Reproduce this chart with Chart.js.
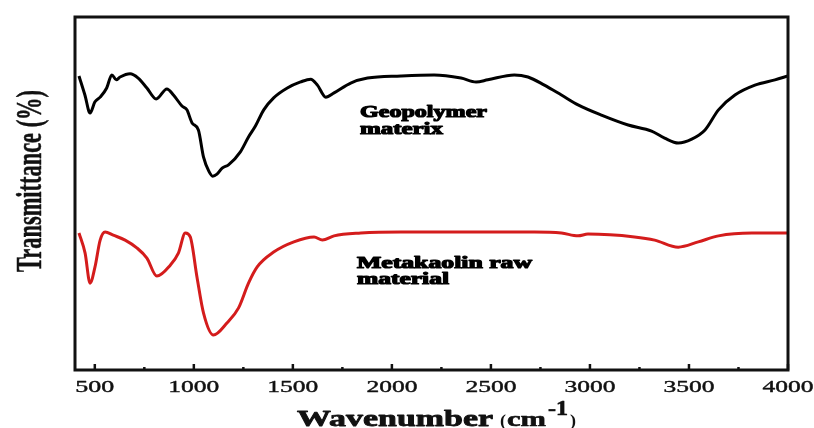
<!DOCTYPE html>
<html>
<head>
<meta charset="utf-8">
<script src="https://cdn.jsdelivr.net/npm/chart.js@4.4.1/dist/chart.umd.min.js"></script>
<style>
  html, body { margin: 0; padding: 0; background: #fff; }
  #wrap { width: 814px; height: 428px; }
</style>
</head>
<body>
<div id="wrap"><canvas id="myChart"></canvas></div>
<script>
// FTIR spectra, values (arbitrary transmittance units 0-100)
const geoWavenumber = [420, 450, 476, 500, 527, 560, 586, 608, 628, 678, 719, 763, 810, 864, 897, 940, 965, 991, 1023, 1049, 1075, 1095, 1117, 1143, 1175, 1235, 1276, 1311, 1353, 1403, 1472, 1539, 1590, 1624, 1666, 1708, 1792, 1877, 2046, 2213, 2349, 2425, 2484, 2618, 2687, 2770, 2856, 2940, 3058, 3193, 3311, 3377, 3446, 3514, 3581, 3649, 3732, 3833, 3934, 4000];
const geoTransmittance = [83.3, 77.9, 72.8, 75.9, 77.3, 79.9, 83.6, 82.2, 83.0, 83.9, 82.7, 79.9, 76.8, 79.6, 77.9, 74.8, 73.7, 70.0, 68.0, 60.3, 56.4, 54.9, 55.5, 57.2, 58.1, 61.8, 66.0, 69.1, 73.7, 77.1, 79.9, 81.6, 82.4, 80.7, 77.3, 78.5, 81.3, 82.7, 83.3, 83.6, 82.7, 81.6, 82.2, 83.6, 83.0, 80.7, 77.9, 75.1, 72.2, 69.4, 67.7, 65.7, 64.3, 65.4, 68.0, 73.7, 77.9, 80.7, 82.2, 83.3];

const mkWavenumber = [420, 451, 476, 501, 527, 552, 593, 653, 712, 763, 813, 881, 922, 957, 982, 1016, 1049, 1099, 1167, 1226, 1276, 1320, 1403, 1505, 1607, 1649, 1708, 1843, 2046, 2720, 2856, 2940, 2990, 3225, 3327, 3446, 3547, 3649, 3818, 4000];
const mkTransmittance = [38.8, 33.1, 24.6, 29.2, 36.8, 39.1, 38.2, 36.8, 34.6, 31.7, 26.6, 29.7, 33.1, 38.8, 37.7, 26.3, 16.1, 9.9, 13.3, 17.6, 24.6, 29.2, 33.4, 36.3, 37.7, 36.8, 38.0, 38.8, 39.1, 39.1, 38.8, 38.0, 38.5, 37.7, 36.8, 34.8, 36.3, 38.0, 38.8, 38.8];

const xMajorTicks = [500, 1000, 1500, 2000, 2500, 3000, 3500, 4000];
const xMinorTicks = [750, 1250, 1750, 2250, 2750, 3250, 3750];

const seriesLabels = [['Geopolymer', 'materix'], ['Metakaolin raw', 'material']];

function toPoints(xs, ys) {
    return xs.map((x, i) => ({ x: x, y: ys[i] }));
}

// draw text squeezed/stretched to a given width, optional outline to make it heavier
function drawFit(ctx, text, x, y, font, width, sy, align, heavy) {
    ctx.save();
    ctx.font = font;
    const w = ctx.measureText(text).width;
    const sx = width ? width / w : 1;
    ctx.translate(x, y);
    ctx.scale(sx, sy || 1);
    ctx.textAlign = align || 'left';
    ctx.textBaseline = 'alphabetic';
    ctx.fillText(text, 0, 0);
    if (heavy) {
        ctx.lineWidth = heavy;
        ctx.lineJoin = 'round';
        ctx.strokeStyle = ctx.fillStyle;
        ctx.strokeText(text, 0, 0);
    }
    ctx.restore();
}

const framePlugin = {
    id: 'frame',
    afterDraw(chart) {
        const ctx = chart.ctx;
        const a = chart.chartArea;
        const xs = chart.scales.x;
        ctx.save();
        ctx.strokeStyle = '#111';
        ctx.lineWidth = 3;
        ctx.strokeRect(a.left, a.top, a.right - a.left, a.bottom - a.top);

        // inward ticks on the bottom axis
        ctx.lineWidth = 2.5;
        xMajorTicks.forEach(v => {
            const px = xs.getPixelForValue(v);
            ctx.beginPath();
            ctx.moveTo(px, a.bottom);
            ctx.lineTo(px, a.bottom - 6);
            ctx.stroke();
        });
        xMinorTicks.forEach(v => {
            const px = xs.getPixelForValue(v);
            ctx.beginPath();
            ctx.moveTo(px, a.bottom);
            ctx.lineTo(px, a.bottom - 3);
            ctx.stroke();
        });

        // tick labels
        ctx.fillStyle = '#111';
        xMajorTicks.forEach(v => {
            const px = xs.getPixelForValue(v);
            drawFit(ctx, String(v), px, 392, '16px "Liberation Serif"', v >= 1000 ? 51 : 39, 1.02, 'center', 0.4);
        });

        // axis titles
        drawFit(ctx, 'Wavenumber', 297, 426, 'bold 23px "Liberation Serif"', 196, 1, 'left', 0.8);
        drawFit(ctx, '(', 500, 426, 'bold 16px "Liberation Serif"', 6, 1);
        drawFit(ctx, 'cm', 507, 426, 'bold 22px "Liberation Serif"', 39, 1, 'left', 0.6);
        drawFit(ctx, '-1', 548, 415, 'bold 20px "Liberation Serif"', 20, 1, 'left', 0.6);
        drawFit(ctx, ')', 570, 426, 'bold 16px "Liberation Serif"', 6, 1);

        ctx.save();
        ctx.translate(41, 272);
        ctx.rotate(-Math.PI / 2);
        drawFit(ctx, 'Transmittance (%)', 0, 0, 'bold 22px "Liberation Serif"', 182, 1.65, 'left', 0.3);
        ctx.restore();

        // curve labels
        ctx.fillStyle = '#000';
        drawFit(ctx, seriesLabels[0][0], 360, 117, 'bold 16px "Liberation Serif"', 127, 1.05, 'left', 1.1);
        drawFit(ctx, seriesLabels[0][1], 360, 134, 'bold 16px "Liberation Serif"', 83, 1.05, 'left', 1.1);
        drawFit(ctx, seriesLabels[1][0], 357, 268, 'bold 16px "Liberation Serif"', 175, 1.05, 'left', 1.1);
        drawFit(ctx, seriesLabels[1][1], 357, 284, 'bold 16px "Liberation Serif"', 92, 1.05, 'left', 1.1);
        ctx.restore();
    }
};

const ctx = document.getElementById('myChart');

new Chart(ctx, {
    type: 'line',
    data: {
        datasets: [
            {
                label: 'Geopolymer materix',
                data: toPoints(geoWavenumber, geoTransmittance),
                borderColor: '#000',
                borderWidth: 3,
                pointRadius: 0,
                cubicInterpolationMode: 'monotone'
            }, {
                label: 'Metakaolin raw material',
                data: toPoints(mkWavenumber, mkTransmittance),
                borderColor: '#d41c1c',
                borderWidth: 3,
                pointRadius: 0,
                cubicInterpolationMode: 'monotone'
            }
        ]
    },
    options: {
        responsive: true,
        maintainAspectRatio: false,
        animation: false,
        layout: {
            padding: { left: 75, right: 26, top: 17, bottom: 58 }
        },
        plugins: {
            legend: { display: false },
            tooltip: { enabled: false }
        },
        scales: {
            x: {
                type: 'linear',
                min: 400,
                max: 4000,
                display: false
            },
            y: {
                min: 0,
                max: 100,
                display: false
            }
        }
    },
    plugins: [framePlugin]
});
</script>
</body>
</html>
